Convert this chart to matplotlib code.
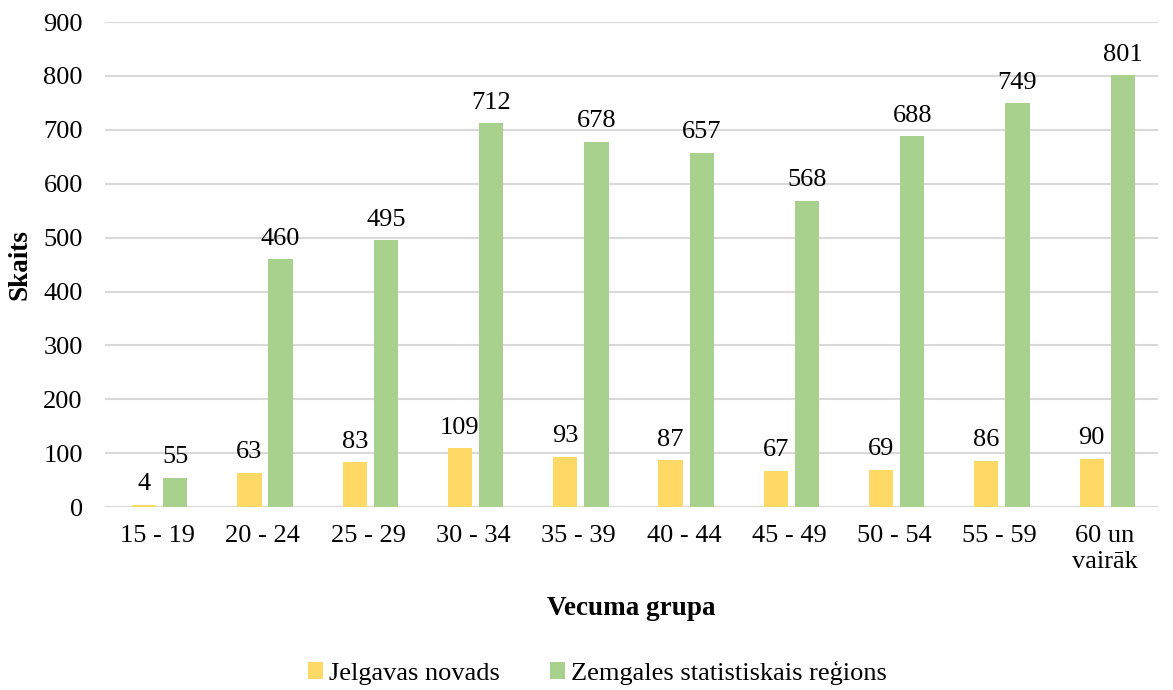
import matplotlib.pyplot as plt
import numpy as np

plt.rcParams['font.family'] = ['Liberation Serif', 'DejaVu Serif']

groups = ["15 - 19", "20 - 24", "25 - 29", "30 - 34", "35 - 39",
          "40 - 44", "45 - 49", "50 - 54", "55 - 59", "60 un\nvairāk"]
jelgava = [4, 63, 83, 109, 93, 87, 67, 69, 86, 90]
zemgale = [55, 460, 495, 712, 678, 657, 568, 688, 749, 801]
series_names = ["Jelgavas novads", "Zemgales statistiskais reģions"]
colors = ["#FFD966", "#A9D18E"]

fig = plt.figure(figsize=(11.73, 6.9), dpi=100)
ax = fig.add_axes([0.0895, 0.265, 0.8975, 0.703])

x = np.arange(len(groups))
w = 0.23
gap = 0.066
shift = (w + gap) / 2
b1 = ax.bar(x - shift + 0.02, jelgava, w, color=colors[0], label=series_names[0], zorder=3)
b2 = ax.bar(x + shift + 0.02, zemgale, w, color=colors[1], label=series_names[1], zorder=3)

for bars, vals in ((b1, jelgava), (b2, zemgale)):
    for b, v in zip(bars, vals):
        ax.annotate(str(v), (b.get_x() + b.get_width() / 2, v),
                    xytext=(0, 7), textcoords="offset points",
                    ha="center", va="bottom", fontsize=19)

ax.set_xlim(-0.5, len(groups) - 0.5)
ax.set_ylim(0, 900)
ax.set_yticks(range(0, 901, 100))
ax.set_xticks(x)
ax.set_xticklabels(groups)
ax.tick_params(axis="both", length=0, labelsize=19)
ax.tick_params(axis="x", pad=13)
ax.tick_params(axis="y", pad=16)
ax.yaxis.grid(True, color="#D9D9D9", linewidth=1.5, zorder=0)
for s in ax.spines.values():
    s.set_visible(False)

ax.set_ylabel("Skaits", fontsize=19.5, fontweight="bold", labelpad=8)
ax.set_xlabel("Vecuma grupa", fontsize=19.5, fontweight="bold", labelpad=17)

fig.legend(loc="lower center", bbox_to_anchor=(0.509, -0.027), ncol=2, frameon=False,
           fontsize=19, handlelength=0.6, handleheight=0.6, handletextpad=0.2,
           columnspacing=1.9)

fig.savefig("out.png", dpi=100)
